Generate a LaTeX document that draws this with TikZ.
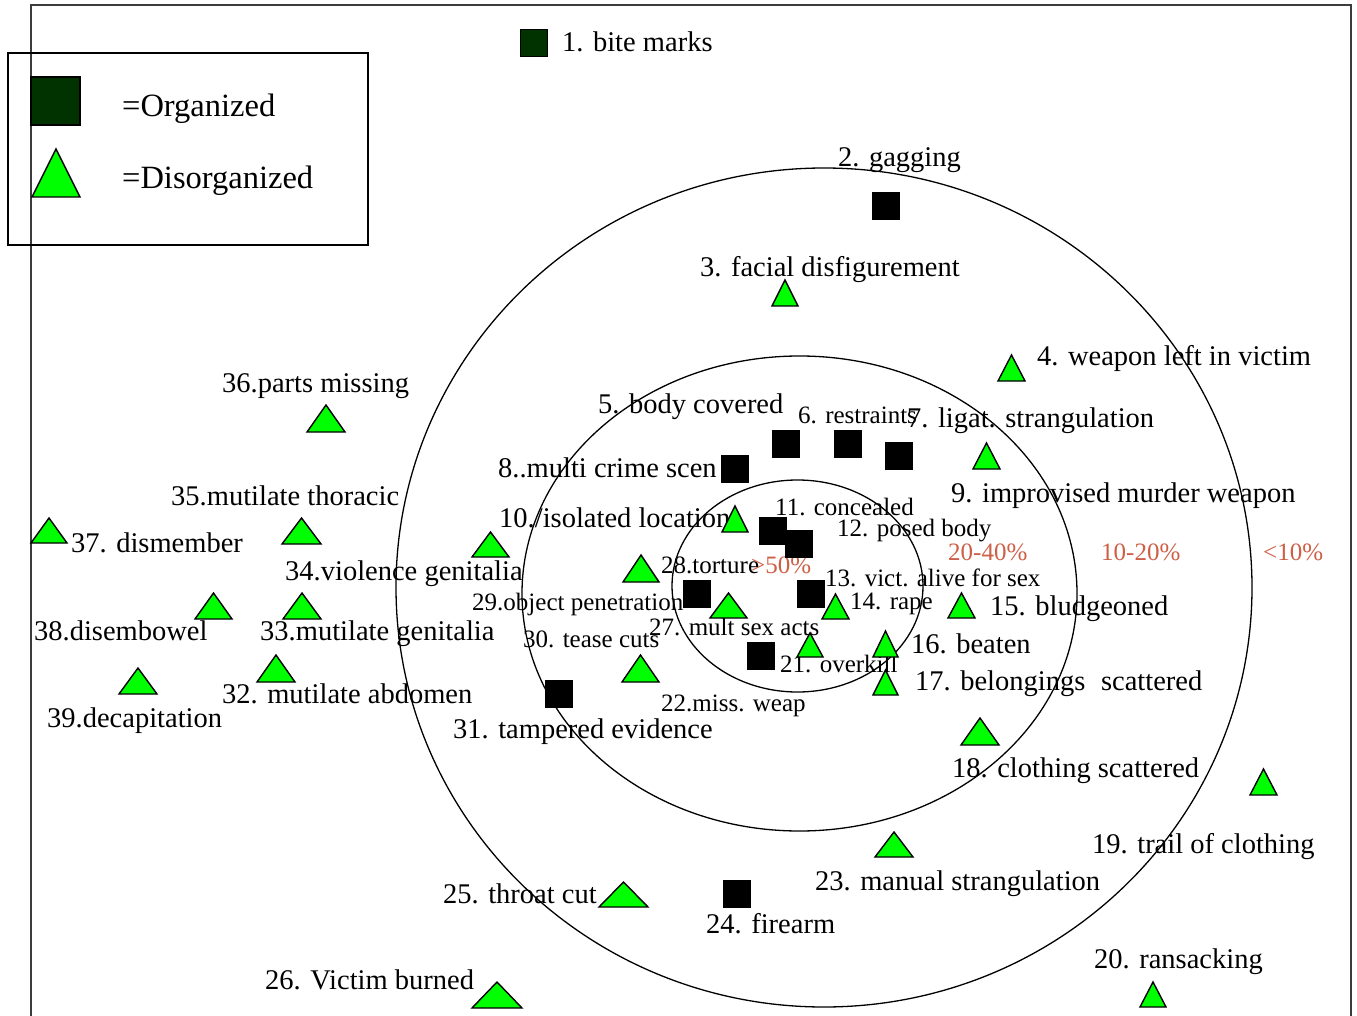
\documentclass[tikz,border=0pt]{standalone}
\usepackage{fontspec}
\setmainfont{Liberation Serif}
\definecolor{orggreen}{RGB}{0,51,0}
\definecolor{disgreen}{RGB}{0,255,0}
\definecolor{pct}{RGB}{205,95,70}
\definecolor{framegray}{RGB}{60,60,60}
\tikzset{
  big/.style={anchor=base west, inner sep=0pt, font=\fontsize{28.5}{30}\selectfont},
  small/.style={anchor=base west, inner sep=0pt, font=\fontsize{25}{27}\selectfont},
  pctlabel/.style={anchor=base west, inner sep=0pt, text=pct, font=\fontsize{25}{27}\selectfont},
  legtext/.style={anchor=base west, inner sep=0pt, font=\fontsize{32.5}{35}\selectfont},
  ring/.style={draw=black, line width=1.3pt},
  orgmark/.style={draw=black, line width=0.8pt},
  dismark/.style={fill=disgreen, draw=black, line width=1.4pt, line join=miter},
}
\newcommand{\OrgSq}[3][black]{\filldraw[orgmark, fill=#1] ({#2-13.5},{#3-13.5}) rectangle ({#2+13.5},{#3+13.5});}
\newcommand{\DisTri}[4]{\filldraw[dismark] (#1,#4) -- (#2,#4) -- ({(#1+#2)/2},#3) -- cycle;}
\begin{document}
\begin{tikzpicture}[x=1pt,y=-1pt]
\useasboundingbox (0,0) rectangle (1357,1016);
% frame
\draw[framegray, line width=2pt] (31,1016) -- (31,5) -- (1351,5) -- (1351,1016);
% legend
\draw[black, line width=1.8pt] (8,53) rectangle (368,245);
\filldraw[orgmark, fill=orggreen, line width=1.2pt] (31,77) rectangle (80,125);
\filldraw[dismark] (32,197) -- (80,197) -- (56,149) -- cycle;
\node[legtext] (leg1) at (122,117) {=Organized};
\node[legtext] (leg2) at (122,189) {=Disorganized};
% labels
\node[big] (l1) at (562,52) {1. bite marks};
\node[big] (l2) at (838,167) {2. gagging};
\node[big] (l3) at (700,277) {3. facial disfigurement};
\node[big] (l4) at (1037,365) {4. weapon left in victim};
\node[big] (l5) at (598,413) {5. body covered};
\node[small] (l6) at (798,423) {6. restraints};
\node[big] (l7) at (907,427) {7. ligat. strangulation};
\node[big] (l8) at (498,477) {8..multi crime scen};
\node[big] (l9) at (951,502) {9. improvised murder weapon};
\node[big] (l10) at (499,527) {10./isolated location};
\node[small] (l11) at (775,515) {11. concealed};
\node[small] (l12) at (837,536) {12. posed body};
\node[small] (l13) at (825,586) {13. vict. alive for sex};
\node[small] (l14) at (850,609) {14. rape};
\node[big] (l15) at (990,615) {15. bludgeoned};
\node[big] (l16) at (911,653) {16. beaten};
\node[big] (l17) at (915,690) {17. belongings\hspace{0.55em}scattered};
\node[big] (l18) at (952,777) {18. clothing scattered};
\node[big] (l19) at (1092,853) {19. trail of clothing};
\node[big] (l20) at (1094,968) {20. ransacking};
\node[small] (l21) at (780,672) {21. overkill};
\node[small] (l22) at (661,711) {22.miss. weap};
\node[big] (l23) at (815,890) {23. manual strangulation};
\node[big] (l24) at (706,933) {24. firearm};
\node[big] (l25) at (443,903) {25. throat cut};
\node[big] (l26) at (265,989) {26. Victim burned};
\node[small] (l27) at (649,635) {27. mult sex acts};
\node[small] (l28) at (661,573) {28.torture};
\node[small] (l29) at (472,610) {29.object penetration};
\node[small] (l30) at (523,647) {30. tease cuts};
\node[big] (l31) at (453,738) {31. tampered evidence};
\node[big] (l32) at (222,703) {32. mutilate abdomen};
\node[big] (l33) at (260,640) {33.mutilate genitalia};
\node[big] (l34) at (285,580) {34.violence genitalia};
\node[big] (l35) at (171,505) {35.mutilate thoracic};
\node[big] (l36) at (222,392) {36.parts missing};
\node[big] (l37) at (71,552) {37. dismember};
\node[big] (l38) at (34,640) {38.disembowel};
\node[big] (l39) at (47,727) {39.decapitation};
% percentages
\node[pctlabel] (p50) at (751,573) {>50\%};
\node[pctlabel] (p2040) at (948,560) {20-40\%};
\node[pctlabel] (p1020) at (1101,560) {10-20\%};
\node[pctlabel] (p10) at (1263,560) {<10\%};
% rings
\draw[ring] (797.5,586) ellipse [x radius=125.5, y radius=106];
\draw[ring] (799.5,593.5) ellipse [x radius=277.5, y radius=237.5];
\draw[ring] (824,587.5) ellipse [x radius=428, y radius=419.5];
% organized marks
\OrgSq[orggreen]{533.5}{42.5}
\OrgSq{885.5}{205.5}
\OrgSq{785.5}{443.5}
\OrgSq{848}{443.5}
\OrgSq{898.5}{456}
\OrgSq{735}{468.5}
\OrgSq{772.5}{531}
\OrgSq{798.5}{544}
\OrgSq{697}{594}
\OrgSq{810.5}{594}
\OrgSq{760.5}{656}
\OrgSq{558.5}{694}
\OrgSq{737}{894}
% disorganized marks (xl, xr, ytop, ybottom)
\DisTri{772}{798}{280}{306}
\DisTri{998}{1025}{355}{381}
\DisTri{973}{1000}{443}{469}
\DisTri{722}{748}{506}{532}
\DisTri{822}{849}{594}{619}
\DisTri{948}{975}{593}{618}
\DisTri{873}{898}{631}{657}
\DisTri{873}{898}{670}{695}
\DisTri{797}{823}{633}{657}
\DisTri{1250}{1277}{769}{795}
\DisTri{1140}{1166}{982}{1007}
\DisTri{961}{999}{718}{745}
\DisTri{875}{913}{832}{857}
\DisTri{599}{648}{882}{907}
\DisTri{472}{522}{982}{1008}
\DisTri{623}{659}{555}{582}
\DisTri{710}{747}{593}{618}
\DisTri{622}{659}{655}{682}
\DisTri{307}{345}{405}{432}
\DisTri{282}{321}{518}{544}
\DisTri{31}{67}{518}{543}
\DisTri{472}{509}{532}{557}
\DisTri{195}{232}{593}{619}
\DisTri{283}{321}{593}{619}
\DisTri{257}{295}{655}{682}
\DisTri{119}{157}{668}{694}
\end{tikzpicture}
\end{document}
